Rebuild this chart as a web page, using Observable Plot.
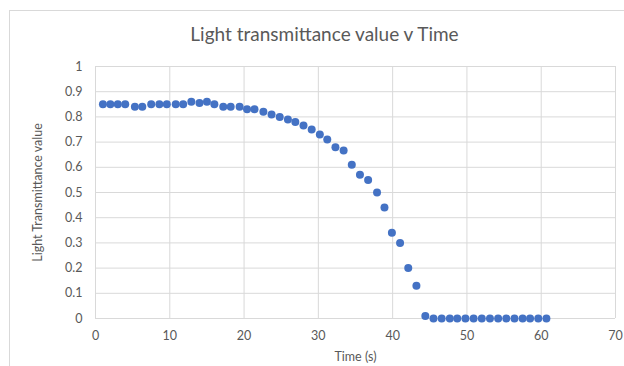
<!DOCTYPE html>
<html>
<head>
<meta charset="utf-8">
<script src="https://cdn.jsdelivr.net/npm/d3@7"></script>
<script src="https://cdn.jsdelivr.net/npm/@observablehq/plot@0.6"></script>
<style>
  html, body { margin: 0; padding: 0; background: #fff; }
  #wrap { position: relative; width: 624px; height: 366px; overflow: hidden; background: #fff; font-family: Lato, "Open Sans", sans-serif; }
  #frame { position: absolute; left: 9px; top: 10px; width: 640px; height: 370px; border: 1px solid #d9d9d9; box-sizing: border-box; }
  #title { position: absolute; left: 9px; width: 631px; top: 22px; text-align: center; font-size: 19px; color: #595959; white-space: nowrap; }
  #chart { position: absolute; left: 0; top: 50px; }
</style>
</head>
<body>
<div id="wrap">
  <div id="frame"></div>
  <div id="title">Light transmittance value v Time</div>
  <div id="chart"></div>
</div>
<script>
const titleText = "Light transmittance value v Time";
const xLabel = "Time (s)";
const yLabel = "Light Transmittance value";
const xTicks = [0, 10, 20, 30, 40, 50, 60, 70];
const yTicks = [0, 0.1, 0.2, 0.3, 0.4, 0.5, 0.6, 0.7, 0.8, 0.9, 1];

const times = [
  1.0, 2.0, 3.0, 4.0, 5.3, 6.3, 7.5, 8.6, 9.6, 10.8,
  11.8, 12.9, 14.0, 15.0, 16.0, 17.2, 18.2, 19.4, 20.4, 21.4,
  22.6, 23.7, 24.8, 25.9, 26.9, 28.0, 29.1, 30.2, 31.2, 32.3,
  33.4, 34.5, 35.6, 36.7, 37.9, 38.9, 39.9, 41.0, 42.1, 43.2,
  44.4, 45.5, 46.6, 47.7, 48.7, 49.8, 50.9, 52.0, 53.1, 54.2,
  55.3, 56.4, 57.5, 58.5, 59.6, 60.7
];
const values = [
  0.85, 0.85, 0.85, 0.85, 0.84, 0.84, 0.85, 0.85, 0.85, 0.85,
  0.85, 0.86, 0.855, 0.86, 0.85, 0.84, 0.84, 0.84, 0.83, 0.83,
  0.82, 0.81, 0.80, 0.79, 0.78, 0.766, 0.75, 0.73, 0.71, 0.68,
  0.667, 0.61, 0.57, 0.55, 0.50, 0.44, 0.34, 0.30, 0.20, 0.13,
  0.01, 0, 0, 0, 0, 0, 0, 0, 0, 0,
  0, 0, 0, 0, 0, 0
];

const data = times.map((t, i) => ({t, v: values[i]}));
const grey = "#d9d9d9";
const textCol = "#595959";

const chart = Plot.plot({
  width: 624,
  height: 316,
  marginLeft: 95,
  marginRight: 9,
  marginTop: 16,
  marginBottom: 48,
  style: {fontFamily: "Lato, 'Open Sans', sans-serif", fontSize: "12px", color: textCol, background: "transparent", overflow: "visible"},
  x: {domain: [0, 70]},
  y: {domain: [0, 1]},
  marks: [
    Plot.gridX(xTicks, {stroke: grey, strokeOpacity: 1}),
    Plot.gridY(yTicks, {stroke: grey, strokeOpacity: 1}),
    Plot.axisX({ticks: xTicks, tickSize: 0, tickPadding: 13, fill: textCol, label: xLabel, labelAnchor: "center", labelArrow: "none", labelOffset: 42, fontSize: 12.5}),
    Plot.axisY({ticks: yTicks, tickSize: 0, tickPadding: 13, fill: textCol, tickFormat: d => String(+d.toFixed(1)), label: yLabel, labelAnchor: "center", labelArrow: "none", labelOffset: 62, fontSize: 12.5}),
    Plot.dot(data, {x: "t", y: "v", r: 4, fill: "#4472c4", stroke: "none"})
  ]
});
document.getElementById("chart").appendChild(chart);
</script>
</body>
</html>
